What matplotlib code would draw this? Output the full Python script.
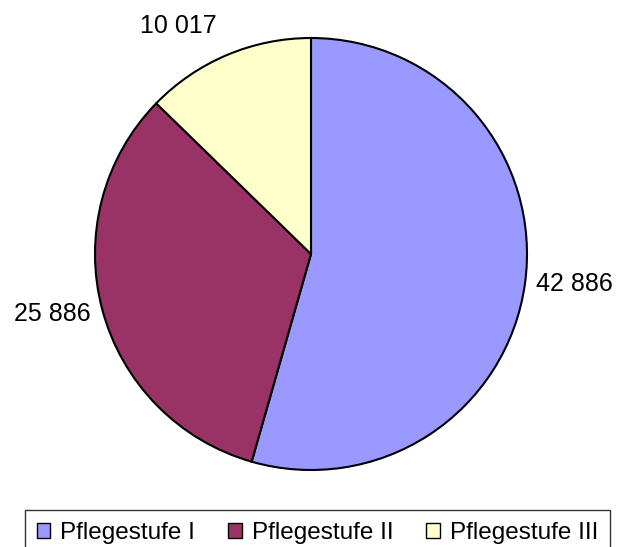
import matplotlib.pyplot as plt
from matplotlib.patches import Patch

plt.rcParams['font.family'] = ['Liberation Sans', 'DejaVu Sans']

categories = ["Pflegestufe I", "Pflegestufe II", "Pflegestufe III"]
values = [42886, 25886, 10017]
value_labels = ["42 886", "25 886", "10 017"]
colors = ["#9999FF", "#993366", "#FFFFCC"]

W, H = 617, 547
fig = plt.figure(figsize=(W / 100, H / 100), dpi=100)

# pie centre ~(311, 254) px, radius ~216 px
cx, cy, r = 311, 254, 216
ax = fig.add_axes([(cx - r) / W, (H - cy - r) / H, 2 * r / W, 2 * r / H])
wedges, texts = ax.pie(values, colors=colors, startangle=90, counterclock=False,
                       labels=value_labels, labeldistance=1.23,
                       wedgeprops=dict(edgecolor="black", linewidth=1.5),
                       textprops=dict(fontsize=18))
ax.set_xlim(-1, 1)
ax.set_ylim(-1, 1)
ax.set_aspect("auto")

# nudge labels to where the original puts them
label_pos = [(1.218, -0.139), (-1.199, -0.278), (-0.616, 1.056)]
for t, p in zip(texts, label_pos):
    t.set_position(p)
    t.set_ha("center")
    t.set_va("center")

handles = [Patch(facecolor=c, edgecolor="black", linewidth=1) for c in colors]
leg = fig.legend(handles, categories, loc="upper center",
                 bbox_to_anchor=(317.5 / W, 1 - 510 / H), ncol=3,
                 fontsize=17.5, frameon=True, fancybox=False, borderaxespad=0,
                 handlelength=0.55, handleheight=0.55, handletextpad=0.42,
                 columnspacing=1.35, borderpad=0.5)
leg.get_frame().set_edgecolor("black")
leg.get_frame().set_linewidth(1)

fig.savefig("out.png", dpi=100)
